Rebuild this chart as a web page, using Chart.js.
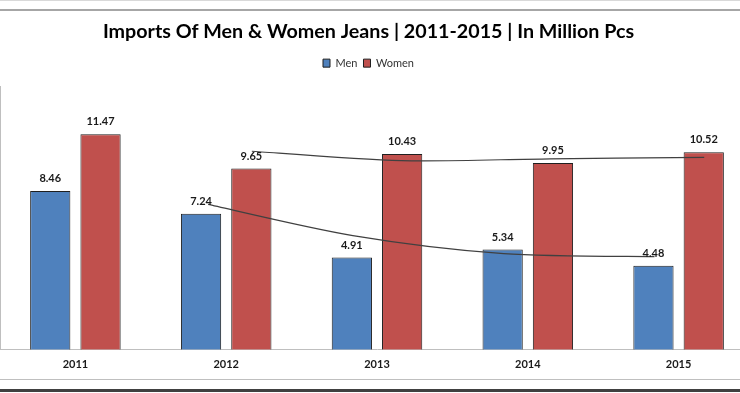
<!DOCTYPE html>
<html>
<head>
<meta charset="utf-8">
<script src="https://cdn.jsdelivr.net/npm/chart.js@4.4.1/dist/chart.umd.min.js"></script>
<style>
  html, body { margin: 0; padding: 0; background: #fff; }
  #wrap { position: relative; width: 740px; height: 393px; overflow: hidden; background: #fff; }
  #wrap canvas { position: absolute; left: -17px; top: 0; }
  .rule { position: absolute; left: 0; width: 740px; }
</style>
</head>
<body>
<div id="wrap">
  <div class="rule" style="top:0;height:1px;background:#d9d9d9"></div>
  <div class="rule" style="top:9px;height:2px;background:#a6a6a6"></div>
  <div class="rule" style="top:379px;height:1px;background:#bfbfbf"></div>
  <div class="rule" style="top:389px;height:3px;background:#404040"></div>
  <canvas id="grafico" width="771" height="393"></canvas>
</div>
<script>
const years = ['2011', '2012', '2013', '2014', '2015']
const men = [8.46, 7.24, 4.91, 5.34, 4.48]
const women = [11.47, 9.65, 10.43, 9.95, 10.52]

// the two hand drawn lines over the bars (x in category units, y in million pcs)
const menLineX = [0.88, 1.84, 2.84, 3.84]
const menLineY = [7.74, 6.08, 5.12, 4.96]
const womenLineX = [1.17, 2.16, 3.15, 4.17]
const womenLineY = [10.57, 10.07, 10.17, 10.25]

const drawnLines = [
  { xs: menLineX, ys: menLineY },
  { xs: womenLineX, ys: womenLineY },
]

// etiquetas de valor encima de cada barra + las dos lineas
const extras = {
  id: 'extras',
  afterDatasetsDraw(chart) {
    const ctx = chart.ctx
    const sx = chart.scales.x
    const sy = chart.scales.y
    ctx.save()
    ctx.strokeStyle = '#404040'
    ctx.lineWidth = 1.2
    drawnLines.forEach((ln) => {
      const pts = ln.xs.map((x, i) => [sx.getPixelForValue(x), sy.getPixelForValue(ln.ys[i])])
      ctx.beginPath()
      ctx.moveTo(pts[0][0], pts[0][1])
      for (let i = 1; i < pts.length; i++) {
        const p0 = pts[i - 1]
        const p1 = pts[i]
        const prev = pts[i - 2] || p0
        const next = pts[i + 1] || p1
        const t = 0.3
        ctx.bezierCurveTo(
          p0[0] + (p1[0] - prev[0]) * t / 2, p0[1] + (p1[1] - prev[1]) * t / 2,
          p1[0] - (next[0] - p0[0]) * t / 2, p1[1] - (next[1] - p0[1]) * t / 2,
          p1[0], p1[1]
        )
      }
      ctx.stroke()
    })

    ctx.font = 'bold 11px Lato, "Open Sans", sans-serif'
    ctx.fillStyle = '#1a1a1a'
    ctx.textAlign = 'center'
    ctx.textBaseline = 'middle'
    chart.data.datasets.forEach((ds, i) => {
      chart.getDatasetMeta(i).data.forEach((bar, j) => {
        ctx.fillText(ds.data[j].toFixed(2), bar.x, bar.y - 12.5)
      })
    })
    ctx.restore()
  },
}

const contenedor = document.getElementById('grafico')

new Chart(contenedor, {
  type: 'bar',
  data: {
    labels: years,
    datasets: [
      {
        label: 'Men',
        data: men,
        backgroundColor: '#4f81bd',
        borderColor: '#1f1f1f',
        borderWidth: 1,
      },
      {
        label: 'Women',
        data: women,
        backgroundColor: '#c0504d',
        borderColor: '#1f1f1f',
        borderWidth: 1,
      },
    ],
  },
  options: {
    responsive: false,
    animation: false,
    datasets: {
      bar: { categoryPercentage: 0.667, barPercentage: 0.8 },
    },
    layout: {
      padding: { left: 0, right: 0, top: 0, bottom: 14 },
    },
    scales: {
      x: {
        grid: { display: false, drawTicks: false },
        border: { display: true, color: '#bfbfbf', width: 1 },
        ticks: {
          padding: 8,
          color: '#1a1a1a',
          font: { family: 'Lato, "Open Sans", sans-serif', size: 11, weight: 'bold' },
        },
      },
      y: {
        min: 0,
        max: 14,
        grid: { display: false, drawTicks: false },
        border: { display: true, color: '#bfbfbf', width: 1 },
        ticks: { display: false },
        afterFit: (scale) => { scale.width = 17 },
      },
    },
    plugins: {
      title: {
        display: true,
        text: 'Imports Of Men & Women Jeans | 2011-2015 | In Million Pcs',
        color: '#000',
        font: { family: 'Lato, "Open Sans", sans-serif', size: 19.7, weight: 'bold' },
        padding: { top: 20, bottom: 8 },
      },
      subtitle: {
        display: true,
        text: '',
        weight: 500,
        font: { size: 1 },
        padding: { top: 0, bottom: 7 },
      },
      legend: {
        position: 'top',
        labels: {
          boxWidth: 7,
          boxHeight: 8,
          padding: 6,
          color: '#333',
          font: { family: 'Lato, "Open Sans", sans-serif', size: 11 },
        },
      },
      tooltip: { enabled: false },
    },
  },
  plugins: [extras],
})
</script>
</body>
</html>
